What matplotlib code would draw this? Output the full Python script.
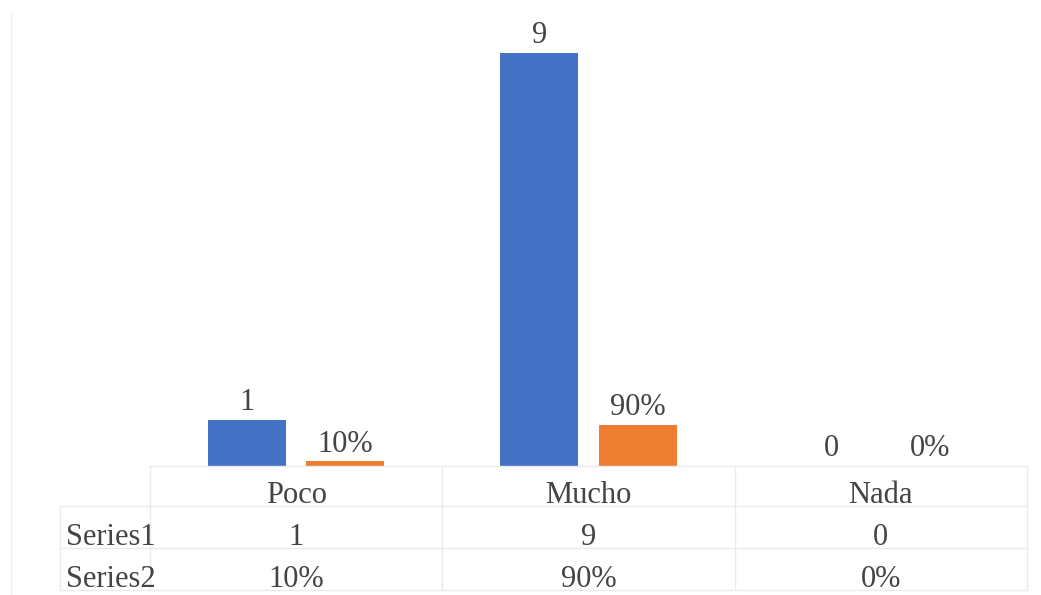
import matplotlib
matplotlib.use("Agg")
import matplotlib.pyplot as plt
from matplotlib.transforms import blended_transform_factory
from matplotlib.lines import Line2D

categories = ["Poco", "Mucho", "Nada"]
series_names = ["Series1", "Series2"]
series1 = [1, 9, 0]
series2 = [0.10, 0.90, 0.0]

def fmt1(v):
    return f"{v:g}"

def fmt2(v):
    return f"{v*100:.0f}%"

plt.rcParams['font.family'] = ['Liberation Serif', 'DejaVu Serif']
TXT = '#444444'
GRID = '#ebebeb'
FS = 22

W, H = 1041, 595
fig = plt.figure(figsize=(W/100, H/100), dpi=100)

def fx(px):
    return px / W

def fy(py):
    return 1 - py / H

ax_left, ax_right, ax_top, ax_bot = 150, 1027, 7, 466
ax = fig.add_axes([fx(ax_left), fy(ax_bot), fx(ax_right - ax_left), (ax_bot - ax_top) / H])
ax.set_xlim(-0.5, len(categories) - 0.5)
ax.set_ylim(0, 10)
ax.axis('off')

x = list(range(len(categories)))
bw = 0.267
off = 0.168
b1 = ax.bar([i - off for i in x], series1, width=bw, color='#4472C4', zorder=2)
b2 = ax.bar([i + off for i in x], series2, width=bw, color='#ED7D31', zorder=2)

for bars, vals, f in ((b1, series1, fmt1), (b2, series2, fmt2)):
    for r, v in zip(bars, vals):
        ax.annotate(f(v), (r.get_x() + r.get_width() / 2, r.get_height()),
                    xytext=(0, 2), textcoords='offset points', ha='center', va='bottom',
                    fontsize=FS, color=TXT)

# Data table below axes
tr = blended_transform_factory(ax.transData, fig.transFigure)
unit_px = (ax_right - ax_left) / len(categories)
label_left = -0.5 - 90 / unit_px
rows_px = [466, 506, 548, 590]

# horizontal lines
ax.add_line(Line2D([-0.5, 2.5], [fy(rows_px[0])] * 2, transform=tr, color=GRID, lw=1, clip_on=False))
for ry in rows_px[1:]:
    ax.add_line(Line2D([label_left, 2.5], [fy(ry)] * 2, transform=tr, color=GRID, lw=1, clip_on=False))
# vertical lines
for k in range(len(categories) + 1):
    ax.add_line(Line2D([k - 0.5] * 2, [fy(rows_px[0]), fy(rows_px[-1])], transform=tr,
                       color=GRID, lw=1, clip_on=False))
ax.add_line(Line2D([label_left] * 2, [fy(rows_px[1]), fy(rows_px[-1])], transform=tr,
                   color=GRID, lw=1, clip_on=False))

def row_base(k):
    return fy(rows_px[k + 1] - 3)

for i, c in enumerate(categories):
    ax.text(i, row_base(0), c, transform=tr, ha='center', va='baseline', fontsize=FS, color=TXT)
    ax.text(i, row_base(1), fmt1(series1[i]), transform=tr, ha='center', va='baseline', fontsize=FS, color=TXT)
    ax.text(i, row_base(2), fmt2(series2[i]), transform=tr, ha='center', va='baseline', fontsize=FS, color=TXT)
for k, nm in enumerate(series_names):
    ax.text(label_left + 0.02, row_base(k + 1), nm, transform=tr, ha='left', va='baseline',
            fontsize=FS, color=TXT)

# faint chart border at left
fig.add_artist(Line2D([fx(11), fx(11)], [fy(14), 0], transform=fig.transFigure, color='#eeeeee', lw=1))

fig.savefig("out.png", dpi=100, facecolor='white')
